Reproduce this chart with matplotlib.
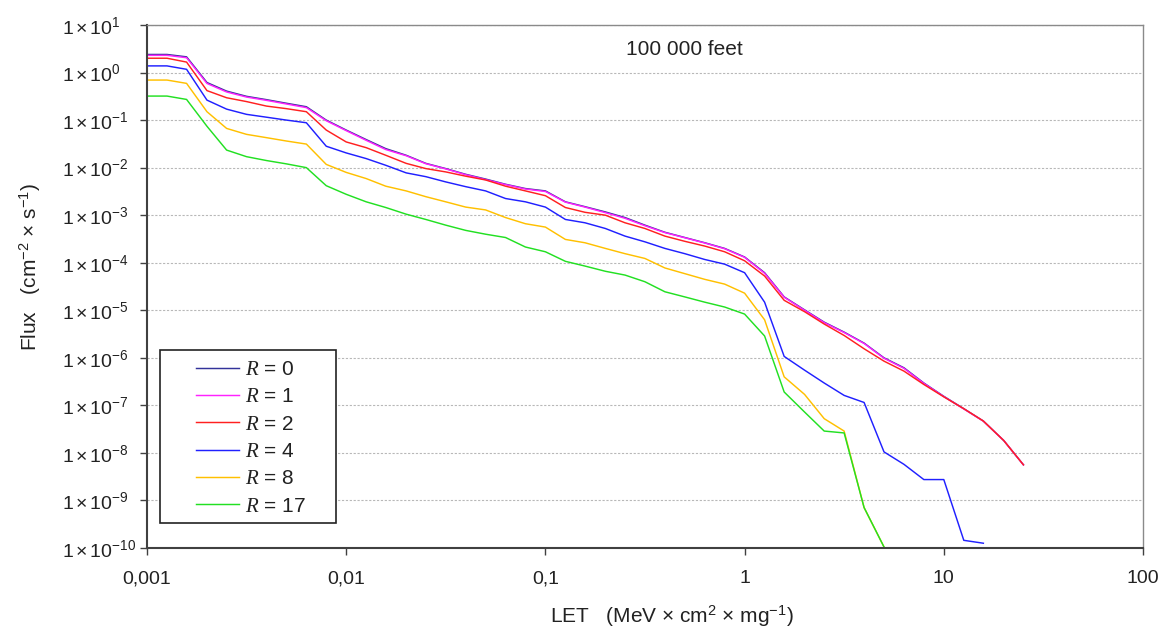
import matplotlib
matplotlib.use("Agg")
import matplotlib.pyplot as plt
from matplotlib.patches import Rectangle
from matplotlib.ticker import NullLocator, FixedLocator, FixedFormatter

plt.rcParams['font.family'] = ['Liberation Sans', 'DejaVu Sans']
plt.rcParams['mathtext.fontset'] = 'custom'
plt.rcParams['mathtext.rm'] = 'Liberation Sans'
plt.rcParams['mathtext.it'] = 'Liberation Serif:italic'
plt.rcParams['mathtext.bf'] = 'Liberation Sans:bold'

# LET values (MeV cm2 / mg)
let = [0.001, 0.00126, 0.00158, 0.002, 0.00251, 0.00316, 0.00398, 0.00501, 0.00631, 0.00794,
       0.01, 0.0126, 0.0158, 0.02, 0.0251, 0.0316, 0.0398, 0.0501, 0.0631, 0.0794,
       0.1, 0.126, 0.158, 0.2, 0.251, 0.316, 0.398, 0.501, 0.631, 0.794,
       1.0, 1.26, 1.58, 2.0, 2.51, 3.16, 3.98, 5.01, 6.31, 7.94,
       10.0, 12.6, 15.8, 20.0, 25.1]

flux_r0 = [2.40, 2.40, 2.14, 0.617, 0.407, 0.316, 0.269, 0.226, 0.191, 0.100,
           0.0617, 0.0389, 0.0251, 0.0182, 0.0123, 0.00955, 0.00724, 0.00575, 0.00447, 0.00363,
           0.00324, 0.00191, 0.00151, 0.00117, 8.91e-4, 6.17e-4, 4.37e-4, 3.39e-4, 2.63e-4, 2.00e-4,
           1.32e-4, 6.17e-5, 1.91e-5, 1.02e-5, 5.62e-6, 3.47e-6, 2.04e-6, 1.00e-6, 6.17e-7, 2.95e-7,
           1.55e-7, 8.51e-8, 4.68e-8, 1.82e-8, 5.62e-9]

flux_r1 = [2.30, 2.30, 2.05, 0.59, 0.39, 0.305, 0.26, 0.218, 0.183, 0.097,
           0.060, 0.0375, 0.0240, 0.0178, 0.0121, 0.0094, 0.0071, 0.0056, 0.0044, 0.00355,
           0.00315, 0.00188, 0.00148, 0.00113, 8.6e-4, 6.0e-4, 4.3e-4, 3.35e-4, 2.6e-4, 1.97e-4,
           1.30e-4, 6.0e-5, 1.88e-5, 1.0e-5, 5.5e-6, 3.4e-6, 2.0e-6, 9.8e-7, 6.0e-7, 2.9e-7,
           1.53e-7, 8.4e-8, 4.65e-8, 1.82e-8, 5.62e-9]

flux_r2 = [2.00, 2.00, 1.66, 0.417, 0.295, 0.245, 0.197, 0.174, 0.150, 0.0617,
           0.0347, 0.0263, 0.0182, 0.0123, 0.00955, 0.00813, 0.00661, 0.00550, 0.00407, 0.00324,
           0.00257, 0.00145, 0.00115, 0.00100, 6.92e-4, 5.25e-4, 3.63e-4, 2.82e-4, 2.24e-4, 1.70e-4,
           1.10e-4, 5.25e-5, 1.62e-5, 9.33e-6, 5.13e-6, 2.95e-6, 1.55e-6, 8.51e-7, 5.25e-7, 2.75e-7,
           1.51e-7, 8.51e-8, 4.68e-8, 1.82e-8, 5.62e-9]

flux_r4 = [1.38, 1.38, 1.17, 0.263, 0.170, 0.132, 0.115, 0.100, 0.0879, 0.0282,
           0.0204, 0.0155, 0.0112, 0.00776, 0.00646, 0.00501, 0.00398, 0.00324, 0.00224, 0.00191,
           0.00148, 8.13e-4, 6.92e-4, 5.25e-4, 3.63e-4, 2.75e-4, 2.00e-4, 1.55e-4, 1.17e-4, 9.33e-5,
           6.17e-5, 1.48e-5, 1.07e-6, 5.50e-7, 2.95e-7, 1.62e-7, 1.15e-7, 1.05e-8, 5.75e-9, 2.75e-9,
           2.75e-9, 1.45e-10, 1.26e-10]

flux_r8 = [0.695, 0.695, 0.592, 0.150, 0.0668, 0.0501, 0.0427, 0.0363, 0.0313, 0.0117,
           0.00794, 0.00589, 0.00407, 0.00324, 0.00245, 0.00191, 0.00148, 0.00129, 8.91e-4, 6.61e-4,
           5.62e-4, 3.09e-4, 2.63e-4, 2.00e-4, 1.55e-4, 1.23e-4, 7.76e-5, 5.89e-5, 4.47e-5, 3.55e-5,
           2.29e-5, 6.31e-6, 3.98e-7, 1.70e-7, 5.25e-8, 2.88e-8, 7.08e-10, 1.05e-10]

flux_r17 = [0.320, 0.320, 0.272, 0.0741, 0.0234, 0.0170, 0.0141, 0.0120, 0.0100, 0.00417,
            0.00275, 0.00191, 0.00145, 0.00105, 8.13e-4, 6.17e-4, 4.79e-4, 3.98e-4, 3.39e-4, 2.14e-4,
            1.70e-4, 1.07e-4, 8.51e-5, 6.61e-5, 5.50e-5, 3.98e-5, 2.45e-5, 1.91e-5, 1.48e-5, 1.17e-5,
            8.32e-6, 2.88e-6, 1.91e-7, 7.24e-8, 2.88e-8, 2.63e-8, 7.08e-10, 1.05e-10]

series_labels = [r"$R$ = 0", r"$R$ = 1", r"$R$ = 2", r"$R$ = 4", r"$R$ = 8", r"$R$ = 17"]
series_data = [flux_r0, flux_r1, flux_r2, flux_r4, flux_r8, flux_r17]
series_colors = ['#33339a', '#ff22ff', '#ff2020', '#2020ff', '#ffc000', '#22e022']

x_ticks = [0.001, 0.01, 0.1, 1, 10, 100]
x_ticklabels = ["0,001", "0,01", "0,1", "1", "10", "100"]
y_exponents = list(range(-10, 2))

W, H = 1169, 635
fig = plt.figure(figsize=(W / 100, H / 100), dpi=100)
ax = fig.add_axes([147 / W, 1 - 548 / H, 996 / W, 523 / H])

ax.set_xscale('log')
ax.set_yscale('log')
ax.set_xlim(1e-3, 1e2)
ax.set_ylim(1e-10, 1e1)

lines = []
for data, lab, col in zip(series_data, series_labels, series_colors):
    ln, = ax.plot(let[:len(data)], data, color=col, lw=1.05, label=lab)
    lines.append(ln)

ax.xaxis.set_major_locator(FixedLocator(x_ticks))
ax.xaxis.set_major_formatter(FixedFormatter(x_ticklabels))
ax.xaxis.set_minor_locator(NullLocator())
yt = [10.0 ** e for e in y_exponents]
ax.yaxis.set_major_locator(FixedLocator(yt))
ax.yaxis.set_major_formatter(FixedFormatter(
    [r"$\mathregular{1\times10^{%d}}$" % e for e in y_exponents]))
ax.yaxis.set_minor_locator(NullLocator())

tick_len = 5
ax.tick_params(axis='both', which='major', direction='out', length=tick_len, width=1.0,
               color='#404040', labelsize=14, labelcolor='#222222')
ax.tick_params(axis='x', pad=11)
# y tick labels are left aligned, starting ~85 px left of the axis
ax.tick_params(axis='y', pad=85 * 0.72 - tick_len)
for lbl in ax.get_yticklabels():
    lbl.set_horizontalalignment('left')

ax.grid(axis='y', which='major', color='#b8b8b8', linestyle=(0, (2, 1.5)), lw=0.8)
ax.set_axisbelow(True)

for s in ['left', 'bottom']:
    ax.spines[s].set_color('#404040')
    ax.spines[s].set_linewidth(1.5)
for s in ['top', 'right']:
    ax.spines[s].set_color('#8a8a8a')
    ax.spines[s].set_linewidth(1.0)

# annotation
ax.text((684.5 - 147) / 996, (548 - 55) / 523, "100 000 feet", transform=ax.transAxes,
        ha='center', va='baseline', fontsize=15, color='#222222')

# axis labels
fig.text(672 / W, 1 - 623 / H,
         r"LET   (MeV $\mathregular{\times}$ cm$^{\mathregular{2}}$ $\mathregular{\times}$ mg$^{\mathregular{-1}}$)",
         ha='center', va='baseline', fontsize=15, color='#222222')
fig.text(37 / W, 1 - 267 / H,
         r"Flux   (cm$^{\mathregular{-2}}$ $\mathregular{\times}$ s$^{\mathregular{-1}}$)",
         ha='center', va='baseline', rotation=90, rotation_mode='anchor',
         fontsize=15, color='#222222')

# legend box
rect = Rectangle(((160 - 147) / 996, (548 - 523) / 523), 176 / 996, 173 / 523,
                 transform=ax.transAxes, facecolor='white', edgecolor='#222222',
                 lw=1.2, zorder=5)
ax.add_patch(rect)
leg = ax.legend(handles=lines, loc='upper left',
                bbox_to_anchor=((195.7 - 147) / 996, (548 - 360) / 523),
                frameon=False, borderpad=0, borderaxespad=0, fontsize=15,
                handlelength=2.08, handletextpad=0.29, labelspacing=0.40)
leg.set_zorder(6)
for t in leg.get_texts():
    t.set_color('#222222')

fig.savefig("out.png", dpi=100)
